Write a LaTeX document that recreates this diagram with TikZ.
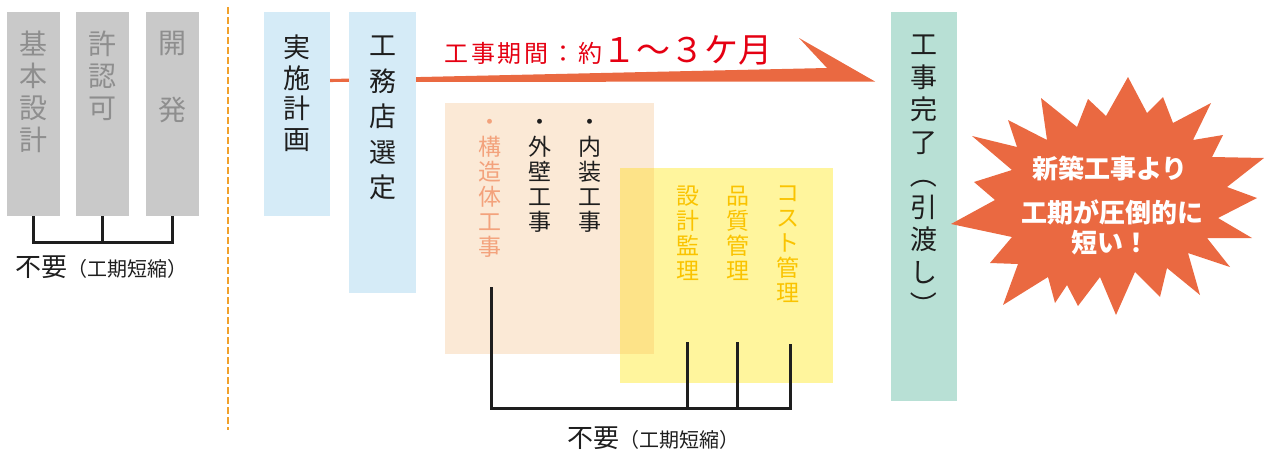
\documentclass[tikz,border=0pt]{standalone}
\usepackage{fontspec}
\setmainfont{Noto Sans CJK JP}
\usetikzlibrary{positioning}

\definecolor{boxgray}{HTML}{C9C9C9}
\definecolor{textgray}{HTML}{8E8E8E}
\definecolor{boxblue}{HTML}{D5EBF7}
\definecolor{arrowred}{HTML}{EA6941}
\definecolor{titlered}{HTML}{E50012}
\definecolor{peach}{HTML}{FBE9D6}
\definecolor{lemon}{HTML}{FFF59D}
\definecolor{overlapc}{HTML}{FDE388}
\definecolor{salmon}{HTML}{F3A27C}
\definecolor{gold}{HTML}{FAC300}
\definecolor{mint}{HTML}{B8E0D5}
\definecolor{divider}{HTML}{F1A12B}
\definecolor{inkblack}{HTML}{1E1E1E}

\tikzset{
  panel/.style={inner sep=0pt, outer sep=0pt},
  graybox/.style={panel, fill=boxgray, minimum width=53pt, minimum height=204pt},
  bluebox/.style={panel, fill=boxblue, minimum width=66pt},
  vtext/.style={align=center, inner sep=0pt, anchor=north, text=#1},
  vtext/.default=inkblack,
  bracket/.style={line width=3pt, draw=inkblack},
  note/.style={inner sep=0pt, text=inkblack}
}

\newcommand{\vparl}{\rotatebox[origin=c]{-90}{（}}
\newcommand{\vparr}{\rotatebox[origin=c]{-90}{）}}
\newcommand{\notetext}{{\fontsize{26}{26}\selectfont 不要}{\fontsize{20}{20}\selectfont （工期短縮）}}

\begin{document}
\begin{tikzpicture}[x=1pt,y=-1pt]
\useasboundingbox (0,0) rectangle (1266,453);

% steps that are skipped
\node[graybox] (kihon) at (33.5,114) {};
\node[graybox] (kyoka) at (102.5,114) {};
\node[graybox] (kaihatsu) at (172.5,114) {};
\node[vtext=textgray, font=\fontsize{28}{32}\selectfont] (kihontxt) at (33.5,31) {基\\本\\設\\計};
\node[vtext=textgray, font=\fontsize{28}{32}\selectfont] (kyokatxt) at (102.5,31) {許\\認\\可};
\node[vtext=textgray, font=\fontsize{28}{33.5}\selectfont] (kaihatsutxt) at (172.5,31) {開\\　\\発};

\coordinate (lbar) at (0,242);
\draw[bracket] (kihon.south) |- (kaihatsu.south |- lbar) -- (kaihatsu.south);
\draw[bracket] (kyoka.south) -- (kyoka.south |- lbar);
\node[note] (lnote) at (101,267) {\notetext};

\coordinate (dtop) at (228,7);
\coordinate (dbot) at (228,430);
\draw[divider, line width=2pt, dash pattern=on 7pt off 3pt] (dtop) -- (dbot);

% period arrow
\fill[arrowred] (330,79) -- (827,68) -- (799,38) -- (875,81.5) -- (330,82) -- cycle;
\node[anchor=base west, inner sep=0pt, text=titlered] (period) at (444,62)
  {{\fontsize{24}{24}\selectfont\addfontfeature{LetterSpace=12}工事期間：約}{\fontsize{34}{34}\selectfont １〜３ケ月}};

\node[bluebox, minimum height=204pt] (jisshi) at (297,114) {};
\node[bluebox, minimum width=67pt, minimum height=281pt] (koumuten) at (382.5,152.5) {};
\node[vtext, font=\fontsize{27}{30.5}\selectfont] (jisshitxt) at (297,35) {実\\施\\計\\画};
\node[vtext, font=\fontsize{27}{35.4}\selectfont] (koumutentxt) at (382.5,36) {工\\務\\店\\選\\定};

% works and management
\node[panel, fill=peach, minimum width=209pt, minimum height=251pt] (kouji) at (549.5,228.5) {};
\node[panel, fill=lemon, minimum width=213pt, minimum height=215pt] (kanri) at (726.5,275.5) {};
\fill[overlapc] (kanri.north west) rectangle (kouji.south east);

\node[vtext=salmon, font=\fontsize{23}{25}\selectfont] (kouzou) at (490,119) {・\\構\\造\\体\\工\\事};
\node[vtext, font=\fontsize{23}{25}\selectfont] (gaiheki) at (540,119) {・\\外\\壁\\工\\事};
\node[vtext, font=\fontsize{23}{25}\selectfont] (naisou) at (590,119) {・\\内\\装\\工\\事};
\node[vtext=gold, font=\fontsize{23}{25}\selectfont] (sekkei) at (688,186) {設\\計\\監\\理};
\node[vtext=gold, font=\fontsize{23}{25}\selectfont] (hinshitsu) at (738,186) {品\\質\\管\\理};
\node[vtext=gold, font=\fontsize{23}{25}\selectfont] (cost) at (788,186) {コ\\ス\\ト\\管\\理};

\coordinate (kz) at (491,287);
\coordinate (sk) at (687,342);
\coordinate (hs) at (737,342);
\coordinate (cs) at (790,344);
\coordinate (cbar) at (0,408);
\draw[bracket] (kz) |- (cs |- cbar) -- (cs);
\draw[bracket] (sk) -- (sk |- cbar);
\draw[bracket] (hs) -- (hs |- cbar);
\node[note] (cnote) at (653.5,438) {\notetext};

% completion
\node[panel, fill=mint, minimum width=66pt, minimum height=389pt] (kanryou) at (924,206.5) {};
\node[vtext, font=\fontsize{27}{32.5}\selectfont] (kanryoutxt) at (924,35) {工\\事\\完\\了\\\vparl\\引\\渡\\し\\\vparr};

\fill[arrowred] (951,224) -- (995,200) -- (974,182) -- (1012,170) -- (972,136) -- (1017,147)
  -- (1008,120) -- (1047,140) -- (1041,98) -- (1077,127) -- (1088,99) -- (1106,116)
  -- (1128,77) -- (1147,113) -- (1163,97) -- (1173,123) -- (1211,103) -- (1193,140)
  -- (1223,135) -- (1212,157) -- (1264,158) -- (1227,187) -- (1257,198) -- (1218,218)
  -- (1252,238) -- (1207,238) -- (1230,267) -- (1188,253) -- (1200,295) -- (1167,268)
  -- (1160,297) -- (1135,272) -- (1116,315) -- (1100,277) -- (1078,306) -- (1067,285)
  -- (1055,303) -- (1048,277) -- (1003,305) -- (1018,264) -- (990,263) -- (1012,237) -- cycle;
\node[inner sep=0pt, text=white, font=\fontsize{26}{26}\selectfont\bfseries] (burst1) at (1110,169) {新築工事より};
\node[inner sep=0pt, text=white, font=\fontsize{26}{26}\selectfont\bfseries] (burst2) at (1112,212) {工期が圧倒的に};
\node[inner sep=0pt, text=white, font=\fontsize{26}{26}\selectfont\bfseries] (burst3) at (1110,243) {短い！};
\end{tikzpicture}
\end{document}
